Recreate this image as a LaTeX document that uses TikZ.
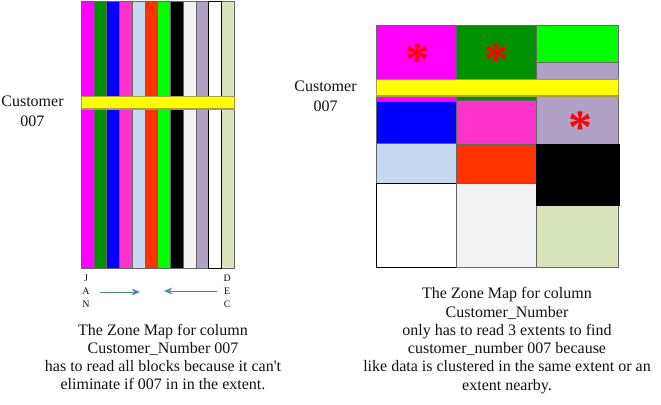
\documentclass[tikz,border=0pt]{standalone}
\usepackage{fontspec}
\setmainfont{Liberation Serif}
\usepackage{tikz}
\usetikzlibrary{positioning,calc,arrows.meta}
\definecolor{zmag}{HTML}{FF00FF}
\definecolor{zdkgreen}{HTML}{009000}
\definecolor{zblue}{HTML}{0000FF}
\definecolor{zpink}{HTML}{FF33CC}
\definecolor{zltblue}{HTML}{C6D9F0}
\definecolor{zorange}{HTML}{FF3300}
\definecolor{zlime}{HTML}{00FF00}
\definecolor{zltgray}{HTML}{F2F2F2}
\definecolor{zlav}{HTML}{B2A1C7}
\definecolor{zpale}{HTML}{D7E4BC}
\definecolor{zyellow}{HTML}{FFFF00}
\definecolor{zarrow}{HTML}{4F81BD}
\definecolor{ink}{HTML}{111111}
\newcommand{\Sx}{81.3}
\newcommand{\Sw}{12.75}
\newcommand{\Ca}{376.3}
\newcommand{\Cb}{456.3}
\newcommand{\Cc}{536.3}
\newcommand{\Cd}{618.7}
\begin{document}
\begin{tikzpicture}[x=0.75pt,y=-0.75pt, every node/.style={text=ink}, line width=0.6pt,
  cell/.style={draw=gray!80!black},
  bar/.style={fill=zyellow, draw=yellow!60!black, line width=0.8pt},
  star/.style={text=red, font=\fontsize{36}{36}\selectfont\bfseries, inner sep=0pt},
  cust/.style={align=center, font=\fontsize{12}{15}\selectfont, inner sep=0pt},
  month/.style={font=\fontsize{7.5}{9}\selectfont, inner sep=0pt},
  caption/.style={align=center, font=\fontsize{12}{13.7}\selectfont, inner sep=0pt}]
\useasboundingbox (0,0) rectangle (661,404);
% ---- LEFT: twelve monthly blocks, one strip each
\foreach \c [count=\i from 0] in {zmag,zdkgreen,zblue,zpink,zltblue,zorange,zlime,black,zltgray,zlav,white,zpale}
  { \filldraw[fill=\c, cell] (\Sx+\i*\Sw,1) rectangle (\Sx+\i*\Sw+\Sw,268); }
\draw[black] (\Sx+10*\Sw,1) rectangle (\Sx+11*\Sw,268);
\draw[bar] (\Sx,96.7) rectangle (\Sx+12*\Sw,109);
\node[cust] (custL) at (32.5,111) {Customer\\007};
% ---- month labels and arrows under the strips
\node[month] (j) at (86,278.3) {J};
\node[month] (a) at (86,291.3) {A};
\node[month] (n) at (86,304.3) {N};
\node[month] (d) at (227.3,278.3) {D};
\node[month] (e) at (227.3,291.3) {E};
\node[month] (c) at (227.3,304.3) {C};
\coordinate (janS) at (100,292);
\coordinate (janE) at (140,292);
\coordinate (decS) at (217,291);
\coordinate (decE) at (164,291);
\draw[zarrow, -{Stealth[length=2.2mm,width=1.8mm]}] (janS) -- (janE);
\draw[zarrow, -{Stealth[length=2.2mm,width=1.8mm]}] (decS) -- (decE);
\node[caption] (capL) at (163,357)
  {The Zone Map for column\\Customer\_Number 007\\has to read all blocks because it can\textquotesingle t\\eliminate if 007 in in the extent.};
% ---- RIGHT: extents clustered by customer
\filldraw[fill=zmag, cell] (\Ca,25) rectangle (\Cb,101);
\filldraw[fill=zblue, cell] (\Ca,101.7) rectangle (\Cb,143.3);
\filldraw[fill=zltblue, cell] (\Ca,143.3) rectangle (\Cb,183.3);
\filldraw[fill=white, draw=black] (\Ca,183.3) rectangle (\Cb,267.3);
\filldraw[fill=zdkgreen, cell] (\Cb,25) rectangle (\Cc,100);
\filldraw[fill=zpink, cell] (\Cb,100) rectangle (\Cc,144.3);
\filldraw[fill=zorange, cell] (\Cb,144.3) rectangle (\Cc,183.3);
\filldraw[fill=zltgray, cell] (\Cb,183.3) rectangle (\Cc,267.3);
\filldraw[fill=zlime, cell] (\Cc,25) rectangle (\Cd,62.3);
\filldraw[fill=zlav, cell] (\Cc,62.3) rectangle (\Cd,144.3);
\filldraw[fill=zpale, cell] (\Cc,205) rectangle (\Cd,267.3);
\filldraw[fill=black, draw=black] (\Cc,144.3) rectangle (619.7,205);
\draw[bar] (\Ca,79.3) rectangle (\Cd,96);
\node[star] (s1) at (417.7,60) {*};
\node[star] (s2) at (496.7,60) {*};
\node[star] (s3) at (580,127.5) {*};
\node[cust] (custR) at (325.5,96.7) {Customer\\007};
\node[caption] (capR) at (507,340.5)
  {The Zone Map for column\\Customer\_Number\\only has to read 3 extents to find\\customer\_number 007 because\\like data is clustered in the same extent or an\\extent nearby.};
\end{tikzpicture}
\end{document}
